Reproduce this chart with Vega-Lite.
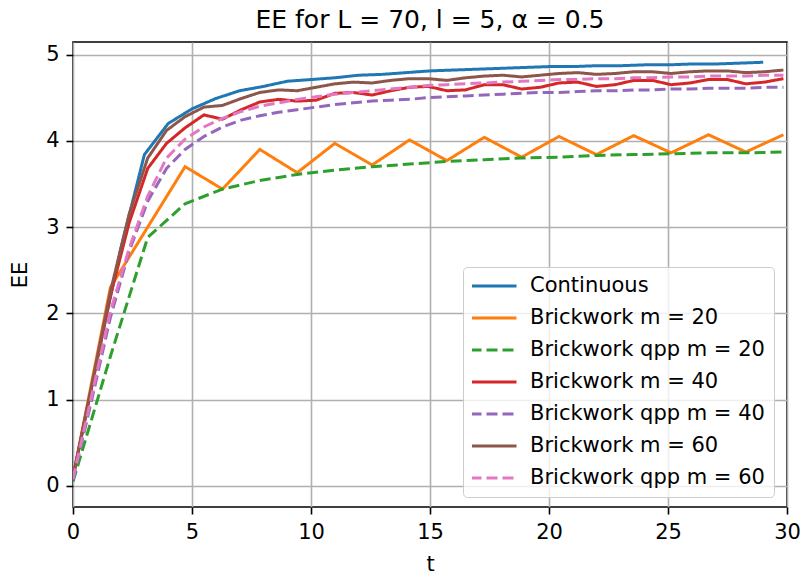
{
  "$schema": "https://vega.github.io/schema/vega-lite/v6.json",
  "autosize": {"type": "none"},
  "width": 714,
  "height": 465,
  "padding": {"left": 73, "top": 42, "right": 17, "bottom": 71},
  "background": "white",
  "title": {
    "text": "EE for L = 70, l = 5, α = 0.5",
    "font": "DejaVu Sans",
    "fontSize": 25,
    "fontWeight": "normal",
    "color": "#000000",
    "anchor": "middle",
    "frame": "group",
    "offset": 9
  },
  "config": {
    "view": {"stroke": "#000000", "strokeWidth": 1.6},
    "axis": {
      "labelFont": "DejaVu Sans",
      "labelFontSize": 21,
      "labelColor": "#000000",
      "titleFont": "DejaVu Sans",
      "titleFontSize": 21,
      "titleFontWeight": "normal",
      "titleColor": "#000000",
      "tickColor": "#000000",
      "tickSize": 7,
      "tickWidth": 1.6,
      "labelPadding": 7,
      "labelFlush": false,
      "labelOverlap": false,
      "domain": false,
      "grid": true,
      "gridColor": "#b0b0b0",
      "gridWidth": 1.6,
      "gridOpacity": 1
    },
    "legend": {
      "labelFont": "DejaVu Sans",
      "labelFontSize": 21,
      "labelColor": "#000000",
      "labelLimit": 400
    }
  },
  "data": {
    "values": [
      {"series": "Continuous", "t": 0, "EE": 0.10},
      {"series": "Continuous", "t": 1, "EE": 1.45},
      {"series": "Continuous", "t": 2, "EE": 2.74},
      {"series": "Continuous", "t": 3, "EE": 3.84},
      {"series": "Continuous", "t": 4, "EE": 4.20},
      {"series": "Continuous", "t": 5, "EE": 4.37},
      {"series": "Continuous", "t": 6, "EE": 4.49},
      {"series": "Continuous", "t": 7, "EE": 4.58},
      {"series": "Continuous", "t": 8, "EE": 4.63},
      {"series": "Continuous", "t": 9, "EE": 4.69},
      {"series": "Continuous", "t": 10, "EE": 4.71},
      {"series": "Continuous", "t": 11, "EE": 4.73},
      {"series": "Continuous", "t": 12, "EE": 4.76},
      {"series": "Continuous", "t": 13, "EE": 4.77},
      {"series": "Continuous", "t": 14, "EE": 4.79},
      {"series": "Continuous", "t": 15, "EE": 4.81},
      {"series": "Continuous", "t": 16, "EE": 4.82},
      {"series": "Continuous", "t": 17, "EE": 4.83},
      {"series": "Continuous", "t": 18, "EE": 4.84},
      {"series": "Continuous", "t": 19, "EE": 4.85},
      {"series": "Continuous", "t": 20, "EE": 4.86},
      {"series": "Continuous", "t": 21, "EE": 4.86},
      {"series": "Continuous", "t": 22, "EE": 4.87},
      {"series": "Continuous", "t": 23, "EE": 4.87},
      {"series": "Continuous", "t": 24, "EE": 4.88},
      {"series": "Continuous", "t": 25, "EE": 4.88},
      {"series": "Continuous", "t": 26, "EE": 4.89},
      {"series": "Continuous", "t": 27, "EE": 4.89},
      {"series": "Continuous", "t": 28, "EE": 4.90},
      {"series": "Continuous", "t": 29, "EE": 4.91},

      {"series": "Brickwork m = 20", "t": 0, "EE": 0.10},
      {"series": "Brickwork m = 20", "t": 1.57, "EE": 2.30},
      {"series": "Brickwork m = 20", "t": 3.14, "EE": 3.00},
      {"series": "Brickwork m = 20", "t": 4.71, "EE": 3.70},
      {"series": "Brickwork m = 20", "t": 6.28, "EE": 3.44},
      {"series": "Brickwork m = 20", "t": 7.85, "EE": 3.90},
      {"series": "Brickwork m = 20", "t": 9.42, "EE": 3.63},
      {"series": "Brickwork m = 20", "t": 11.0, "EE": 3.97},
      {"series": "Brickwork m = 20", "t": 12.57, "EE": 3.72},
      {"series": "Brickwork m = 20", "t": 14.14, "EE": 4.01},
      {"series": "Brickwork m = 20", "t": 15.71, "EE": 3.77},
      {"series": "Brickwork m = 20", "t": 17.28, "EE": 4.04},
      {"series": "Brickwork m = 20", "t": 18.85, "EE": 3.81},
      {"series": "Brickwork m = 20", "t": 20.42, "EE": 4.05},
      {"series": "Brickwork m = 20", "t": 21.99, "EE": 3.84},
      {"series": "Brickwork m = 20", "t": 23.56, "EE": 4.06},
      {"series": "Brickwork m = 20", "t": 25.13, "EE": 3.86},
      {"series": "Brickwork m = 20", "t": 26.7, "EE": 4.07},
      {"series": "Brickwork m = 20", "t": 28.27, "EE": 3.87},
      {"series": "Brickwork m = 20", "t": 29.85, "EE": 4.07},

      {"series": "Brickwork qpp m = 20", "t": 0, "EE": 0.05},
      {"series": "Brickwork qpp m = 20", "t": 1.57, "EE": 1.50},
      {"series": "Brickwork qpp m = 20", "t": 3.14, "EE": 2.88},
      {"series": "Brickwork qpp m = 20", "t": 4.71, "EE": 3.27},
      {"series": "Brickwork qpp m = 20", "t": 6.28, "EE": 3.44},
      {"series": "Brickwork qpp m = 20", "t": 7.85, "EE": 3.54},
      {"series": "Brickwork qpp m = 20", "t": 9.42, "EE": 3.61},
      {"series": "Brickwork qpp m = 20", "t": 11.0, "EE": 3.66},
      {"series": "Brickwork qpp m = 20", "t": 12.57, "EE": 3.70},
      {"series": "Brickwork qpp m = 20", "t": 14.14, "EE": 3.73},
      {"series": "Brickwork qpp m = 20", "t": 15.71, "EE": 3.76},
      {"series": "Brickwork qpp m = 20", "t": 17.28, "EE": 3.78},
      {"series": "Brickwork qpp m = 20", "t": 18.85, "EE": 3.80},
      {"series": "Brickwork qpp m = 20", "t": 20.42, "EE": 3.81},
      {"series": "Brickwork qpp m = 20", "t": 21.99, "EE": 3.83},
      {"series": "Brickwork qpp m = 20", "t": 23.56, "EE": 3.84},
      {"series": "Brickwork qpp m = 20", "t": 25.13, "EE": 3.85},
      {"series": "Brickwork qpp m = 20", "t": 26.7, "EE": 3.86},
      {"series": "Brickwork qpp m = 20", "t": 28.27, "EE": 3.86},
      {"series": "Brickwork qpp m = 20", "t": 29.85, "EE": 3.87},

      {"series": "Brickwork m = 40", "t": 0, "EE": 0.10},
      {"series": "Brickwork m = 40", "t": 0.79, "EE": 1.15},
      {"series": "Brickwork m = 40", "t": 1.57, "EE": 2.20},
      {"series": "Brickwork m = 40", "t": 2.36, "EE": 3.05},
      {"series": "Brickwork m = 40", "t": 3.14, "EE": 3.68},
      {"series": "Brickwork m = 40", "t": 3.93, "EE": 3.97},
      {"series": "Brickwork m = 40", "t": 4.71, "EE": 4.15},
      {"series": "Brickwork m = 40", "t": 5.5, "EE": 4.30},
      {"series": "Brickwork m = 40", "t": 6.28, "EE": 4.25},
      {"series": "Brickwork m = 40", "t": 7.07, "EE": 4.36},
      {"series": "Brickwork m = 40", "t": 7.85, "EE": 4.45},
      {"series": "Brickwork m = 40", "t": 8.64, "EE": 4.48},
      {"series": "Brickwork m = 40", "t": 9.42, "EE": 4.46},
      {"series": "Brickwork m = 40", "t": 10.21, "EE": 4.47},
      {"series": "Brickwork m = 40", "t": 11.0, "EE": 4.55},
      {"series": "Brickwork m = 40", "t": 11.78, "EE": 4.56},
      {"series": "Brickwork m = 40", "t": 12.57, "EE": 4.53},
      {"series": "Brickwork m = 40", "t": 13.35, "EE": 4.58},
      {"series": "Brickwork m = 40", "t": 14.14, "EE": 4.62},
      {"series": "Brickwork m = 40", "t": 14.92, "EE": 4.63},
      {"series": "Brickwork m = 40", "t": 15.71, "EE": 4.58},
      {"series": "Brickwork m = 40", "t": 16.49, "EE": 4.59},
      {"series": "Brickwork m = 40", "t": 17.28, "EE": 4.65},
      {"series": "Brickwork m = 40", "t": 18.06, "EE": 4.65},
      {"series": "Brickwork m = 40", "t": 18.85, "EE": 4.60},
      {"series": "Brickwork m = 40", "t": 19.63, "EE": 4.62},
      {"series": "Brickwork m = 40", "t": 20.42, "EE": 4.67},
      {"series": "Brickwork m = 40", "t": 21.21, "EE": 4.68},
      {"series": "Brickwork m = 40", "t": 21.99, "EE": 4.63},
      {"series": "Brickwork m = 40", "t": 22.78, "EE": 4.65},
      {"series": "Brickwork m = 40", "t": 23.56, "EE": 4.70},
      {"series": "Brickwork m = 40", "t": 24.35, "EE": 4.70},
      {"series": "Brickwork m = 40", "t": 25.13, "EE": 4.65},
      {"series": "Brickwork m = 40", "t": 25.92, "EE": 4.67},
      {"series": "Brickwork m = 40", "t": 26.7, "EE": 4.71},
      {"series": "Brickwork m = 40", "t": 27.49, "EE": 4.71},
      {"series": "Brickwork m = 40", "t": 28.27, "EE": 4.66},
      {"series": "Brickwork m = 40", "t": 29.06, "EE": 4.68},
      {"series": "Brickwork m = 40", "t": 29.85, "EE": 4.72},

      {"series": "Brickwork qpp m = 40", "t": 0, "EE": 0.07},
      {"series": "Brickwork qpp m = 40", "t": 0.79, "EE": 1.00},
      {"series": "Brickwork qpp m = 40", "t": 1.57, "EE": 1.95},
      {"series": "Brickwork qpp m = 40", "t": 2.36, "EE": 2.72},
      {"series": "Brickwork qpp m = 40", "t": 3.14, "EE": 3.30},
      {"series": "Brickwork qpp m = 40", "t": 3.93, "EE": 3.68},
      {"series": "Brickwork qpp m = 40", "t": 4.71, "EE": 3.90},
      {"series": "Brickwork qpp m = 40", "t": 5.5, "EE": 4.05},
      {"series": "Brickwork qpp m = 40", "t": 6.28, "EE": 4.16},
      {"series": "Brickwork qpp m = 40", "t": 7.07, "EE": 4.24},
      {"series": "Brickwork qpp m = 40", "t": 7.85, "EE": 4.29},
      {"series": "Brickwork qpp m = 40", "t": 8.64, "EE": 4.33},
      {"series": "Brickwork qpp m = 40", "t": 9.42, "EE": 4.36},
      {"series": "Brickwork qpp m = 40", "t": 10.21, "EE": 4.39},
      {"series": "Brickwork qpp m = 40", "t": 11.0, "EE": 4.42},
      {"series": "Brickwork qpp m = 40", "t": 11.78, "EE": 4.44},
      {"series": "Brickwork qpp m = 40", "t": 12.57, "EE": 4.46},
      {"series": "Brickwork qpp m = 40", "t": 13.35, "EE": 4.47},
      {"series": "Brickwork qpp m = 40", "t": 14.14, "EE": 4.48},
      {"series": "Brickwork qpp m = 40", "t": 14.92, "EE": 4.50},
      {"series": "Brickwork qpp m = 40", "t": 15.71, "EE": 4.51},
      {"series": "Brickwork qpp m = 40", "t": 16.49, "EE": 4.52},
      {"series": "Brickwork qpp m = 40", "t": 17.28, "EE": 4.53},
      {"series": "Brickwork qpp m = 40", "t": 18.06, "EE": 4.54},
      {"series": "Brickwork qpp m = 40", "t": 18.85, "EE": 4.55},
      {"series": "Brickwork qpp m = 40", "t": 19.63, "EE": 4.56},
      {"series": "Brickwork qpp m = 40", "t": 20.42, "EE": 4.56},
      {"series": "Brickwork qpp m = 40", "t": 21.21, "EE": 4.57},
      {"series": "Brickwork qpp m = 40", "t": 21.99, "EE": 4.58},
      {"series": "Brickwork qpp m = 40", "t": 22.78, "EE": 4.58},
      {"series": "Brickwork qpp m = 40", "t": 23.56, "EE": 4.59},
      {"series": "Brickwork qpp m = 40", "t": 24.35, "EE": 4.59},
      {"series": "Brickwork qpp m = 40", "t": 25.13, "EE": 4.60},
      {"series": "Brickwork qpp m = 40", "t": 25.92, "EE": 4.60},
      {"series": "Brickwork qpp m = 40", "t": 26.7, "EE": 4.61},
      {"series": "Brickwork qpp m = 40", "t": 27.49, "EE": 4.61},
      {"series": "Brickwork qpp m = 40", "t": 28.27, "EE": 4.61},
      {"series": "Brickwork qpp m = 40", "t": 29.06, "EE": 4.62},
      {"series": "Brickwork qpp m = 40", "t": 29.85, "EE": 4.62},

      {"series": "Brickwork m = 60", "t": 0, "EE": 0.10},
      {"series": "Brickwork m = 60", "t": 0.79, "EE": 1.17},
      {"series": "Brickwork m = 60", "t": 1.57, "EE": 2.25},
      {"series": "Brickwork m = 60", "t": 2.36, "EE": 3.15},
      {"series": "Brickwork m = 60", "t": 3.14, "EE": 3.80},
      {"series": "Brickwork m = 60", "t": 3.93, "EE": 4.12},
      {"series": "Brickwork m = 60", "t": 4.71, "EE": 4.28},
      {"series": "Brickwork m = 60", "t": 5.5, "EE": 4.39},
      {"series": "Brickwork m = 60", "t": 6.28, "EE": 4.41},
      {"series": "Brickwork m = 60", "t": 7.07, "EE": 4.49},
      {"series": "Brickwork m = 60", "t": 7.85, "EE": 4.56},
      {"series": "Brickwork m = 60", "t": 8.64, "EE": 4.59},
      {"series": "Brickwork m = 60", "t": 9.42, "EE": 4.58},
      {"series": "Brickwork m = 60", "t": 10.21, "EE": 4.62},
      {"series": "Brickwork m = 60", "t": 11.0, "EE": 4.66},
      {"series": "Brickwork m = 60", "t": 11.78, "EE": 4.68},
      {"series": "Brickwork m = 60", "t": 12.57, "EE": 4.67},
      {"series": "Brickwork m = 60", "t": 13.35, "EE": 4.70},
      {"series": "Brickwork m = 60", "t": 14.14, "EE": 4.72},
      {"series": "Brickwork m = 60", "t": 14.92, "EE": 4.72},
      {"series": "Brickwork m = 60", "t": 15.71, "EE": 4.70},
      {"series": "Brickwork m = 60", "t": 16.49, "EE": 4.73},
      {"series": "Brickwork m = 60", "t": 17.28, "EE": 4.75},
      {"series": "Brickwork m = 60", "t": 18.06, "EE": 4.76},
      {"series": "Brickwork m = 60", "t": 18.85, "EE": 4.74},
      {"series": "Brickwork m = 60", "t": 19.63, "EE": 4.76},
      {"series": "Brickwork m = 60", "t": 20.42, "EE": 4.78},
      {"series": "Brickwork m = 60", "t": 21.21, "EE": 4.79},
      {"series": "Brickwork m = 60", "t": 21.99, "EE": 4.77},
      {"series": "Brickwork m = 60", "t": 22.78, "EE": 4.78},
      {"series": "Brickwork m = 60", "t": 23.56, "EE": 4.80},
      {"series": "Brickwork m = 60", "t": 24.35, "EE": 4.80},
      {"series": "Brickwork m = 60", "t": 25.13, "EE": 4.78},
      {"series": "Brickwork m = 60", "t": 25.92, "EE": 4.80},
      {"series": "Brickwork m = 60", "t": 26.7, "EE": 4.81},
      {"series": "Brickwork m = 60", "t": 27.49, "EE": 4.81},
      {"series": "Brickwork m = 60", "t": 28.27, "EE": 4.79},
      {"series": "Brickwork m = 60", "t": 29.06, "EE": 4.80},
      {"series": "Brickwork m = 60", "t": 29.85, "EE": 4.82},

      {"series": "Brickwork qpp m = 60", "t": 0, "EE": 0.08},
      {"series": "Brickwork qpp m = 60", "t": 0.79, "EE": 1.05},
      {"series": "Brickwork qpp m = 60", "t": 1.57, "EE": 2.02},
      {"series": "Brickwork qpp m = 60", "t": 2.36, "EE": 2.75},
      {"series": "Brickwork qpp m = 60", "t": 3.14, "EE": 3.36},
      {"series": "Brickwork qpp m = 60", "t": 3.93, "EE": 3.80},
      {"series": "Brickwork qpp m = 60", "t": 4.71, "EE": 4.02},
      {"series": "Brickwork qpp m = 60", "t": 5.5, "EE": 4.16},
      {"series": "Brickwork qpp m = 60", "t": 6.28, "EE": 4.26},
      {"series": "Brickwork qpp m = 60", "t": 7.07, "EE": 4.34},
      {"series": "Brickwork qpp m = 60", "t": 7.85, "EE": 4.40},
      {"series": "Brickwork qpp m = 60", "t": 8.64, "EE": 4.44},
      {"series": "Brickwork qpp m = 60", "t": 9.42, "EE": 4.48},
      {"series": "Brickwork qpp m = 60", "t": 10.21, "EE": 4.51},
      {"series": "Brickwork qpp m = 60", "t": 11.0, "EE": 4.54},
      {"series": "Brickwork qpp m = 60", "t": 11.78, "EE": 4.56},
      {"series": "Brickwork qpp m = 60", "t": 12.57, "EE": 4.58},
      {"series": "Brickwork qpp m = 60", "t": 13.35, "EE": 4.60},
      {"series": "Brickwork qpp m = 60", "t": 14.14, "EE": 4.62},
      {"series": "Brickwork qpp m = 60", "t": 14.92, "EE": 4.64},
      {"series": "Brickwork qpp m = 60", "t": 15.71, "EE": 4.65},
      {"series": "Brickwork qpp m = 60", "t": 16.49, "EE": 4.66},
      {"series": "Brickwork qpp m = 60", "t": 17.28, "EE": 4.67},
      {"series": "Brickwork qpp m = 60", "t": 18.06, "EE": 4.68},
      {"series": "Brickwork qpp m = 60", "t": 18.85, "EE": 4.69},
      {"series": "Brickwork qpp m = 60", "t": 19.63, "EE": 4.70},
      {"series": "Brickwork qpp m = 60", "t": 20.42, "EE": 4.71},
      {"series": "Brickwork qpp m = 60", "t": 21.21, "EE": 4.71},
      {"series": "Brickwork qpp m = 60", "t": 21.99, "EE": 4.72},
      {"series": "Brickwork qpp m = 60", "t": 22.78, "EE": 4.72},
      {"series": "Brickwork qpp m = 60", "t": 23.56, "EE": 4.73},
      {"series": "Brickwork qpp m = 60", "t": 24.35, "EE": 4.73},
      {"series": "Brickwork qpp m = 60", "t": 25.13, "EE": 4.74},
      {"series": "Brickwork qpp m = 60", "t": 25.92, "EE": 4.74},
      {"series": "Brickwork qpp m = 60", "t": 26.7, "EE": 4.75},
      {"series": "Brickwork qpp m = 60", "t": 27.49, "EE": 4.75},
      {"series": "Brickwork qpp m = 60", "t": 28.27, "EE": 4.75},
      {"series": "Brickwork qpp m = 60", "t": 29.06, "EE": 4.76},
      {"series": "Brickwork qpp m = 60", "t": 29.85, "EE": 4.76}
    ]
  },
  "mark": {"type": "line", "strokeWidth": 3, "clip": true},
  "encoding": {
    "x": {
      "field": "t",
      "type": "quantitative",
      "title": "t",
      "scale": {"domain": [0, 30], "nice": false, "zero": false},
      "axis": {"values": [0, 5, 10, 15, 20, 25, 30], "titlePadding": 11}
    },
    "y": {
      "field": "EE",
      "type": "quantitative",
      "title": "EE",
      "scale": {"domain": [-0.245, 5.145], "nice": false, "zero": false},
      "axis": {"values": [0, 1, 2, 3, 4, 5], "titlePadding": 15}
    },
    "color": {
      "field": "series",
      "type": "nominal",
      "title": null,
      "scale": {
        "domain": ["Continuous", "Brickwork m = 20", "Brickwork qpp m = 20", "Brickwork m = 40", "Brickwork qpp m = 40", "Brickwork m = 60", "Brickwork qpp m = 60"],
        "range": ["#1f77b4", "#ff7f0e", "#2ca02c", "#d62728", "#9467bd", "#8c564b", "#e377c2"]
      },
      "legend": {
        "orient": "none",
        "legendX": 390,
        "legendY": 225,
        "direction": "vertical",
        "symbolType": "stroke",
        "symbolSize": 2116,
        "symbolStrokeWidth": 3,
        "symbolOffset": -3,
        "clipHeight": 20,
        "rowPadding": 11,
        "labelOffset": 12,
        "padding": 9,
        "fillColor": "rgba(255,255,255,0.8)",
        "strokeColor": "#cccccc",
        "cornerRadius": 4
      }
    },
    "strokeDash": {
      "field": "series",
      "type": "nominal",
      "title": null,
      "scale": {
        "domain": ["Continuous", "Brickwork m = 20", "Brickwork qpp m = 20", "Brickwork m = 40", "Brickwork qpp m = 40", "Brickwork m = 60", "Brickwork qpp m = 60"],
        "range": [[1, 0], [1, 0], [11, 5], [1, 0], [11, 5], [1, 0], [11, 5]]
      }
    }
  }
}
